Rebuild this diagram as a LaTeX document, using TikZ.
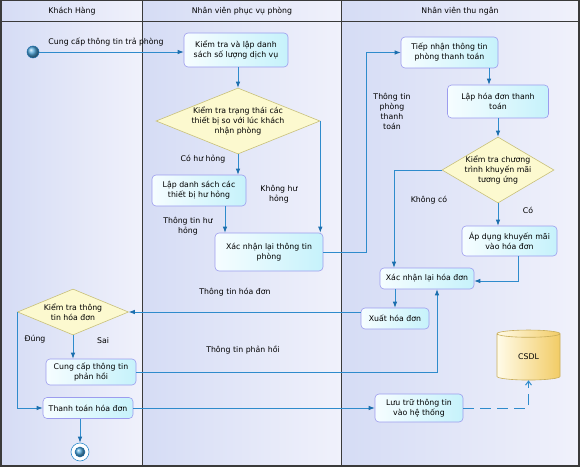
\documentclass[tikz,border=0pt]{standalone}
\usepackage{fontspec}
\setmainfont{DejaVu Sans}
\usetikzlibrary{shapes.geometric,arrows.meta,calc}
\definecolor{lnk}{HTML}{2E8BCC}
\definecolor{lnkdark}{HTML}{1C6FAE}
\definecolor{ballc}{HTML}{4FA6DA}
\definecolor{boxL}{HTML}{F6FDFF}
\definecolor{boxR}{HTML}{C6F2FB}
\definecolor{boxborder}{HTML}{9C9CEE}
\definecolor{decfill}{HTML}{FCF9CF}
\definecolor{decborder}{HTML}{C8C07A}
\definecolor{laneL}{HTML}{D5DCF5}
\definecolor{laneR}{HTML}{F0F1FB}
\definecolor{frame}{HTML}{3A3A3A}
\definecolor{cylL}{HTML}{FFFBE8}
\definecolor{cylR}{HTML}{F2CC66}
\definecolor{cylborder}{HTML}{C9AE5A}
\begin{document}
\begin{tikzpicture}[x=1pt,y=-1pt,
  font=\fontsize{7.8}{10}\selectfont,
  box/.style={draw=boxborder, line width=0.6pt, rounded corners=4pt, left color=boxL, right color=boxR, align=center, inner sep=1pt, text=black},
  dec/.style={diamond, draw=decborder, fill=decfill, line width=0.6pt, inner sep=0pt},
  flow/.style={draw=lnk, line width=0.8pt, -{Latex[length=6pt,width=4.5pt,color=lnkdark]}},
  lbl/.style={align=center, text=black, inner sep=0pt},
  lanebg/.style={left color=laneL, right color=laneR, draw=none}]
\useasboundingbox (0,0) rectangle (581,468);
% lanes
\fill[lanebg] (1,0) rectangle (142,466);
\fill[lanebg] (142,0) rectangle (341,466);
\fill[lanebg] (341,0) rectangle (579,466);
\draw[frame, line width=0.8pt] (0,21) -- (579,21);
\draw[frame, line width=0.8pt] (142,0) -- (142,466);
\draw[frame, line width=0.8pt] (341,0) -- (341,466);
\draw[frame, line width=1.2pt] (1,0) rectangle (579,466);
\node[lbl] (h1) at (72,11) {Khách Hàng};
\node[lbl] (h2) at (242,11) {Nhân viên phục vụ phòng};
\node[lbl] (h3) at (460,11) {Nhân viên thu ngân};
% nodes
\node[circle, minimum size=12pt, inner sep=0pt, draw=lnkdark, line width=0.5pt, ball color=ballc] (start) at (33,52) {};
\node[box, minimum width=104pt, minimum height=34pt] (b1) at (236,50) {Kiểm tra và lập danh\\sách số lượng dịch vụ};
\node[dec, minimum width=164pt, minimum height=66pt, label={[lbl]center:Kiểm tra trạng thái các\\thiết bị so với lúc khách\\nhận phòng}] (d1) at (238,121) {};
\node[box, minimum width=94pt, minimum height=31pt] (b2) at (199,190.5) {Lập danh sách các\\thiết bị hư hỏng};
\node[box, minimum width=108pt, minimum height=38pt] (b3) at (269,252) {Xác nhận lại thông tin\\phòng};
\node[box, minimum width=97pt, minimum height=31pt] (b4) at (449.5,52.5) {Tiếp nhận thông tin\\phòng thanh toán};
\node[box, minimum width=101pt, minimum height=33pt] (b5) at (498,101.5) {Lập hóa đơn thanh\\toán};
\node[dec, minimum width=112pt, minimum height=66pt, label={[lbl]center:Kiểm tra chương\\trình khuyến mãi\\tương ứng}] (d2) at (498,170) {};
\node[box, minimum width=95pt, minimum height=30pt] (b6) at (509.5,241) {Áp dụng khuyến mãi\\vào hóa đơn};
\node[box, minimum width=94pt, minimum height=21pt] (b7) at (427,278.5) {Xác nhận lại hóa đơn};
\node[box, minimum width=68pt, minimum height=21pt] (b8) at (395,318.5) {Xuất hóa đơn};
\node[dec, minimum width=111pt, minimum height=46pt, label={[lbl]center:Kiểm tra thông\\tin hóa đơn}] (d3) at (73,312) {};
\node[box, minimum width=90pt, minimum height=26pt] (b9) at (91,372) {Cung cấp thông tin\\phản hồi};
\node[box, minimum width=90pt, minimum height=21pt] (b10) at (88,408) {Thanh toán hóa đơn};
\node[box, minimum width=88pt, minimum height=28pt] (b11) at (419,408) {Lưu trữ thông tin\\vào hệ thống};
\node[cylinder, shape border rotate=90, aspect=0.35, minimum width=63pt, minimum height=50pt, inner sep=0pt, draw=cylborder, line width=0.6pt, left color=cylL, right color=cylR] (db) at (528.5,357) {CSDL};
\node[circle, minimum size=18pt, inner sep=0pt, draw=lnk, fill=white, line width=0.6pt] (end) at (80,452) {};
\node[circle, minimum size=10pt, inner sep=0pt, draw=lnkdark, line width=0.5pt, ball color=ballc] (endin) at (end.center) {};
% labels
\node[lbl] (t1) at (106,42) {Cung cấp thông tin trả phòng};
\node[lbl] (t2) at (203,159) {Có hư hỏng};
\node[lbl] (t3) at (279,194) {Không hư\\hỏng};
\node[lbl] (t4) at (188,226) {Thông tin hư\\hỏng};
\node[lbl] (t5) at (392,111) {Thông tin\\phòng\\thanh\\toán};
\node[lbl] (t6) at (528,210) {Có};
\node[lbl] (t7) at (429,200) {Không có};
\node[lbl] (t8) at (235,292) {Thông tin hóa đơn};
\node[lbl] (t9) at (103,341) {Sai};
\node[lbl] (t10) at (243,350) {Thông tin phản hồi};
\node[lbl] (t11) at (35,339) {Đúng};
% connectors
\coordinate (c1) at (366,0);
\draw[flow] (start) -- (start -| b1.west);
\draw[flow] (d1.north |- b1.south) -- (d1.north);
\draw[flow] (d1.south) -- (d1.south |- b2.north);
\draw[flow] (d1.east) -| ([xshift=-3pt]b3.north east);
\draw[flow] ([xshift=26pt]b2.south) -- ([xshift=26pt]b2.south |- b3.north);
\draw[flow] (b3.east) -| (c1 |- b4.west) -- (b4.west);
\draw[flow] ([xshift=39.5pt]b4.south) -- ([xshift=39.5pt]b4.south |- b5.north);
\draw[flow] (b5.south) -- (d2.north);
\draw[flow] (d2.south) -- (d2.south |- b6.north);
\draw[flow] (d2.west) -| ([xshift=-33pt]b7.north);
\draw[flow] ([xshift=8.5pt]b6.south) |- ([yshift=-2.5pt]b7.east);
\draw[flow] (b8.north |- b7.south) -- (b8.north);
\draw[flow] (b8.west |- d3.east) -- (d3.east);
\draw[flow] (d3.south) -- (d3.south |- b9.north);
\draw[flow] (b9.east) -| ([xshift=10pt]b7.south);
\draw[flow] (d3.west) |- (b10.west);
\draw[flow] (b10.east) -- (b11.west);
\draw[flow] (end.north |- b10.south) -- (end.north);
\draw[draw=lnk, line width=1pt, dash pattern=on 11pt off 6pt, -{Straight Barb[length=4pt,width=6pt]}] (b11.east) -| (db.south);
\end{tikzpicture}
\end{document}
